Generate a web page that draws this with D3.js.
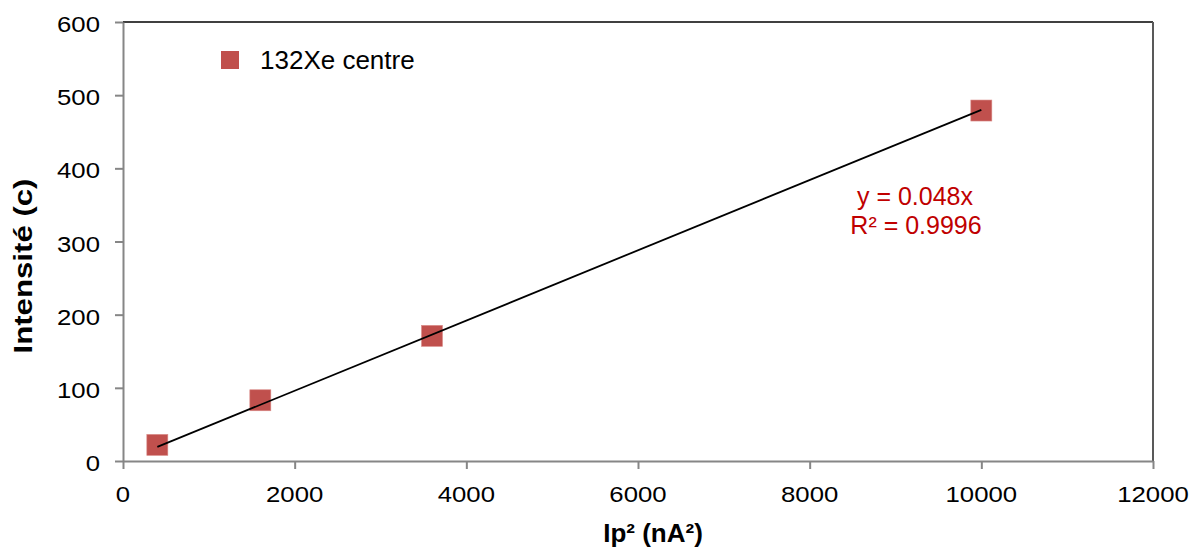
<!DOCTYPE html>
<html><head><meta charset="utf-8">
<script src="https://cdn.jsdelivr.net/npm/d3@7"></script>
<style>body{margin:0;background:#fff;} text{font-family:"Liberation Sans",Arial,sans-serif;}</style>
</head><body>
<svg id="c" width="1199" height="549"></svg>
<script>
const xValues = [400, 1600, 3600, 10000];
const yValues = [22, 83, 171, 479];
const xTicks = [0, 2000, 4000, 6000, 8000, 10000, 12000];
const yTicks = [0, 100, 200, 300, 400, 500, 600];
const seriesName = "132Xe centre";
const slope = 0.048;
const eqLines = ["y = 0.048x", "R² = 0.9996"];

const svg = d3.select("#c");
const m = {l:123, r:1153, t:22, b:461};
const x = d3.scaleLinear().domain([0,12000]).range([m.l, m.r]);
const y = d3.scaleLinear().domain([0,600]).range([m.b, m.t]);
const SX = 1.12;

// frame
svg.append("line").attr("x1",m.l).attr("x2",m.r).attr("y1",m.t).attr("y2",m.t).attr("stroke","#404040").attr("stroke-width",2);
svg.append("line").attr("x1",m.r).attr("x2",m.r).attr("y1",m.t).attr("y2",m.b).attr("stroke","#595959").attr("stroke-width",2);

const xa = svg.append("g").attr("transform",`translate(0,${m.b})`)
  .call(d3.axisBottom(x).tickValues(xTicks).tickFormat("").tickSize(8).tickSizeOuter(0));
const ya = svg.append("g").attr("transform",`translate(${m.l},0)`)
  .call(d3.axisLeft(y).tickValues(yTicks).tickFormat("").tickSize(8).tickSizeOuter(0));
[xa, ya].forEach(a=>{
  a.select(".domain").attr("stroke","#868686").attr("stroke-width",2);
  a.selectAll(".tick line").attr("stroke","#868686").attr("stroke-width",2);
  a.selectAll(".tick text").remove();
});
// tick labels
svg.append("g").selectAll("text").data(xTicks).join("text")
  .attr("transform",d=>`translate(${x(d)},502) scale(${SX},1)`)
  .attr("text-anchor","middle").attr("font-size",23).attr("fill","#000").text(d3.format("d"));
svg.append("g").selectAll("text").data(yTicks).join("text")
  .attr("transform",d=>`translate(100,${y(d)+10}) scale(${SX},1)`)
  .attr("text-anchor","end").attr("font-size",23).attr("fill","#000").text(d3.format("d"));

// markers
svg.append("g").selectAll("rect").data(xValues).join("rect")
  .attr("x",(d)=>x(d)-10.5).attr("y",(d,i)=>y(yValues[i])-10.5)
  .attr("width",21).attr("height",21).attr("fill","#C0504D").attr("stroke","#D98B88").attr("stroke-width",0.6);

// trendline
const x0 = d3.min(xValues), x1 = d3.max(xValues);
svg.append("line").attr("x1",x(x0)).attr("y1",y(slope*x0)).attr("x2",x(x1)).attr("y2",y(slope*x1))
  .attr("stroke","#000").attr("stroke-width",1.8);

// equation
svg.append("text").attr("x",915).attr("y",205).attr("text-anchor","middle").attr("font-size",25).attr("fill","#C00000").text(eqLines[0]);
svg.append("text").attr("x",916).attr("y",234).attr("text-anchor","middle").attr("font-size",25).attr("fill","#C00000").text(eqLines[1]);

// legend
svg.append("rect").attr("x",221).attr("y",51).attr("width",18).attr("height",18).attr("fill","#C0504D");
svg.append("text").attr("x",260).attr("y",69).attr("font-size",26).attr("fill","#000").text(seriesName);

// axis titles
svg.append("text").attr("x",653).attr("y",542).attr("text-anchor","middle").attr("font-size",26).attr("font-weight","bold").text("Ip² (nA²)");
svg.append("text").attr("transform","translate(32,266) rotate(-90) scale(1.2,1)").attr("text-anchor","middle").attr("font-size",26).attr("font-weight","bold").text("Intensité (c)");
</script>
</body></html>
